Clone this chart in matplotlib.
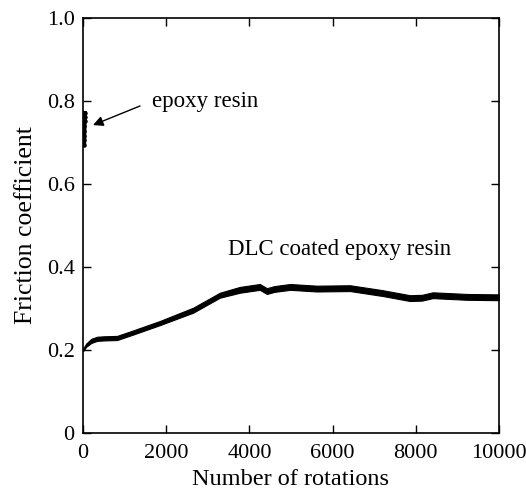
import matplotlib
matplotlib.use("Agg")
import matplotlib.pyplot as plt
import numpy as np

plt.rcParams['font.family'] = ['Liberation Serif', 'DejaVu Serif']
plt.rcParams['mathtext.fontset'] = 'stix'

# DLC coated epoxy resin: centre of noisy band
dlc_x = [0, 80, 200, 340, 500, 820, 1200, 1850, 2650, 3290, 3770, 4250, 4420, 4600, 4980,
         5620, 6420, 7210, 7860, 8150, 8410, 9230, 10000]
dlc_y = [0.200, 0.212, 0.222, 0.227, 0.228, 0.229, 0.242, 0.265, 0.296, 0.332, 0.345, 0.352,
         0.342, 0.347, 0.352, 0.348, 0.349, 0.337, 0.325, 0.326, 0.332, 0.328, 0.327]
dlc_half = [0.003, 0.004, 0.005, 0.005, 0.005, 0.005, 0.005, 0.005, 0.006, 0.006, 0.007, 0.007,
            0.007, 0.007, 0.007, 0.007, 0.007, 0.007, 0.007, 0.007, 0.007, 0.007, 0.007]

# Uncoated epoxy resin: short run near start
epoxy_x = [25, 28, 30, 32, 35, 37, 40, 42]
epoxy_y = [0.694, 0.705, 0.716, 0.728, 0.740, 0.752, 0.762, 0.771]

xticks = [0, 2000, 4000, 6000, 8000, 10000]
yticks = [0, 0.2, 0.4, 0.6, 0.8, 1.0]
ytick_labels = ['0', '0.2', '0.4', '0.6', '0.8', '1.0']

fig = plt.figure(figsize=(5.26, 4.94), dpi=100)
ax = fig.add_axes([83/526, 1 - 433/494, 416/526, 415/494])

lo = np.array(dlc_y) - np.array(dlc_half)
hi = np.array(dlc_y) + np.array(dlc_half)
ax.fill_between(dlc_x, lo, hi, color='black', lw=0.8, edgecolor='black')
ax.plot(epoxy_x, epoxy_y, color='black', lw=3, marker='o', ms=2.2)

ax.annotate('', xy=(240, 0.742), xytext=(1370, 0.788),
            arrowprops=dict(arrowstyle='-|>', color='black', lw=1.0,
                            mutation_scale=15, shrinkA=0, shrinkB=0))
ax.text(1660, 0.80, 'epoxy resin', fontsize=16.5, va='center', ha='left')
ax.text(3490, 0.441, 'DLC coated epoxy resin', fontsize=16.5, va='center', ha='left')

ax.set_xlim(0, 10000)
ax.set_ylim(0, 1.0)
ax.set_xticks(xticks)
ax.set_yticks(yticks)
ax.set_yticklabels(ytick_labels)
ax.tick_params(direction='in', top=True, right=True, length=6, width=1,
               labelsize=16)
ax.tick_params(axis='x', pad=8)
ax.tick_params(axis='y', pad=6)
for s in ax.spines.values():
    s.set_linewidth(1.2)

ax.set_xlabel('Number of rotations', fontsize=17.5, labelpad=4)
ax.set_ylabel('Friction coefficient', fontsize=18.5, labelpad=7)

fig.savefig('out.png', dpi=100)
